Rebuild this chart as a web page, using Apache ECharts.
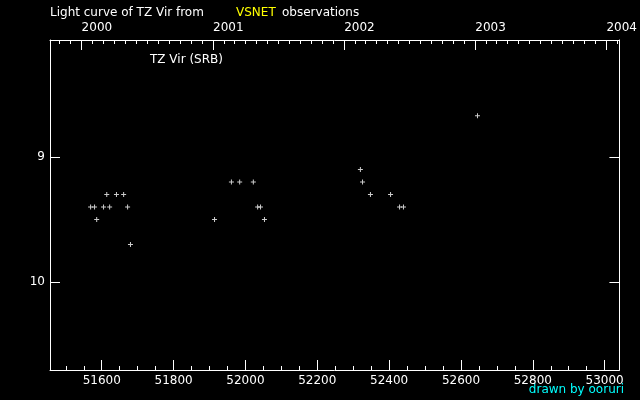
<!DOCTYPE html>
<html>
<head>
<meta charset="utf-8">
<script src="https://cdn.jsdelivr.net/npm/echarts@6/dist/echarts.min.js"></script>
<style>html,body{margin:0;padding:0;background:#000;}#c{width:640px;height:400px;}</style>
</head>
<body>
<div id="c"></div>
<script>
// Observations (MJD = JD - 2400000, visual magnitude)
const mjd = [51569, 51580, 51586, 51605, 51614, 51622, 51641, 51661, 51672, 51680,
             51914, 51961, 51984, 52022, 52034, 52042, 52053,
             52320, 52326, 52348, 52404, 52429, 52440, 52646];
const mag = [9.4, 9.4, 9.5, 9.4, 9.3, 9.4, 9.3, 9.3, 9.4, 9.7,
             9.5, 9.2, 9.2, 9.2, 9.4, 9.4, 9.5,
             9.1, 9.2, 9.3, 9.3, 9.4, 9.4, 8.67];
const xTicks = [51600, 51800, 52000, 52200, 52400, 52600, 52800, 53000];
const yTicks = [9, 10];
const yearLabels = ['2000', '2001', '2002', '2003', '2004'];

const XMIN = 51456, XMAX = 53041;
const YMIN = 8.064, YMAX = 10.704;

function toMJD(y, m, d) { return Date.UTC(y, m, d) / 86400000 + 40587; }
const yearTicks = yearLabels.map(y => toMJD(+y, 0, 1));
const monthTicks = [];
for (let y = 1999; y <= 2004; y++) for (let m = 0; m < 12; m++) {
  const v = toMJD(y, m, 1);
  if (v > XMIN && v < XMAX) monthTicks.push(v);
}
const minorX = [];
for (let v = 51500; v <= 53000; v += 50) minorX.push(v);

const white = '#ffffff';
const font = 'DejaVu Sans';
const chart = echarts.init(document.getElementById('c'), null, {renderer: 'canvas'});
const baseX = {type: 'value', min: XMIN, max: XMAX, splitLine: {show: false}};
chart.setOption({
  backgroundColor: '#000000',
  animation: false,
  grid: {left: 50, right: 20, top: 40, bottom: 30, containLabel: false},
  graphic: [
    {type: 'text', left: 50, top: 7, style: {text: 'Light curve of TZ Vir from', fill: white, font: '12px "DejaVu Sans"'}},
    {type: 'text', left: 236, top: 7, style: {text: 'VSNET', fill: '#ffff00', font: '12px "DejaVu Sans"'}},
    {type: 'text', left: 282, top: 7, style: {text: 'observations', fill: white, font: '12px "DejaVu Sans"'}},
    {type: 'text', left: 150, top: 54, style: {text: 'TZ Vir (SRB)', fill: white, font: '12px "DejaVu Sans"'}},
    {type: 'text', right: 16, top: 384, style: {text: 'drawn by ooruri', fill: '#00ffff', font: '12px "DejaVu Sans"'}}
  ],
  xAxis: [
    Object.assign({}, baseX, {
      position: 'bottom',
      axisLine: {onZero: false, lineStyle: {color: white, width: 1}},
      axisTick: {inside: true, length: 10, customValues: xTicks, lineStyle: {color: white}},
      axisLabel: {customValues: xTicks, color: white, fontFamily: font, fontSize: 12, margin: 5,
        formatter: v => String(v)}
    }),
    Object.assign({}, baseX, {
      position: 'bottom',
      axisLine: {show: false, onZero: false},
      axisTick: {inside: true, length: 4, customValues: minorX, lineStyle: {color: white}},
      axisLabel: {show: false}
    }),
    Object.assign({}, baseX, {
      position: 'top',
      axisLine: {onZero: false, lineStyle: {color: white, width: 1}},
      axisTick: {inside: true, length: 10, customValues: yearTicks, lineStyle: {color: white}},
      axisLabel: {customValues: yearTicks, color: white, fontFamily: font, fontSize: 12, margin: 6, align: 'left',
        formatter: v => yearLabels[yearTicks.indexOf(v)]}
    }),
    Object.assign({}, baseX, {
      position: 'top',
      axisLine: {show: false, onZero: false},
      axisTick: {inside: true, length: 4, customValues: monthTicks, lineStyle: {color: white}},
      axisLabel: {show: false}
    })
  ],
  yAxis: [
    {
      type: 'value', inverse: true, min: YMIN, max: YMAX, position: 'left', splitLine: {show: false},
      axisLine: {show: true, onZero: false, lineStyle: {color: white, width: 1}},
      axisTick: {show: true, inside: true, length: 10, customValues: yTicks, lineStyle: {color: white}},
      axisLabel: {customValues: yTicks, color: white, fontFamily: font, fontSize: 12, margin: 5,
        formatter: v => String(v)}
    },
    {
      type: 'value', inverse: true, min: YMIN, max: YMAX, position: 'right', splitLine: {show: false},
      axisLine: {show: true, onZero: false, lineStyle: {color: white, width: 1}},
      axisTick: {show: true, inside: true, length: 10, customValues: yTicks, lineStyle: {color: white}},
      axisLabel: {show: false}
    }
  ],
  series: [{
    type: 'scatter',
    xAxisIndex: 0, yAxisIndex: 0,
    data: mjd.map((x, i) => [x, mag[i]]),
    symbol: 'path://M2,0H3V2H5V3H3V5H2V3H0V2H2Z',
    symbolSize: 5,
    itemStyle: {color: white},
    silent: true
  }]
});
</script>
</body>
</html>
